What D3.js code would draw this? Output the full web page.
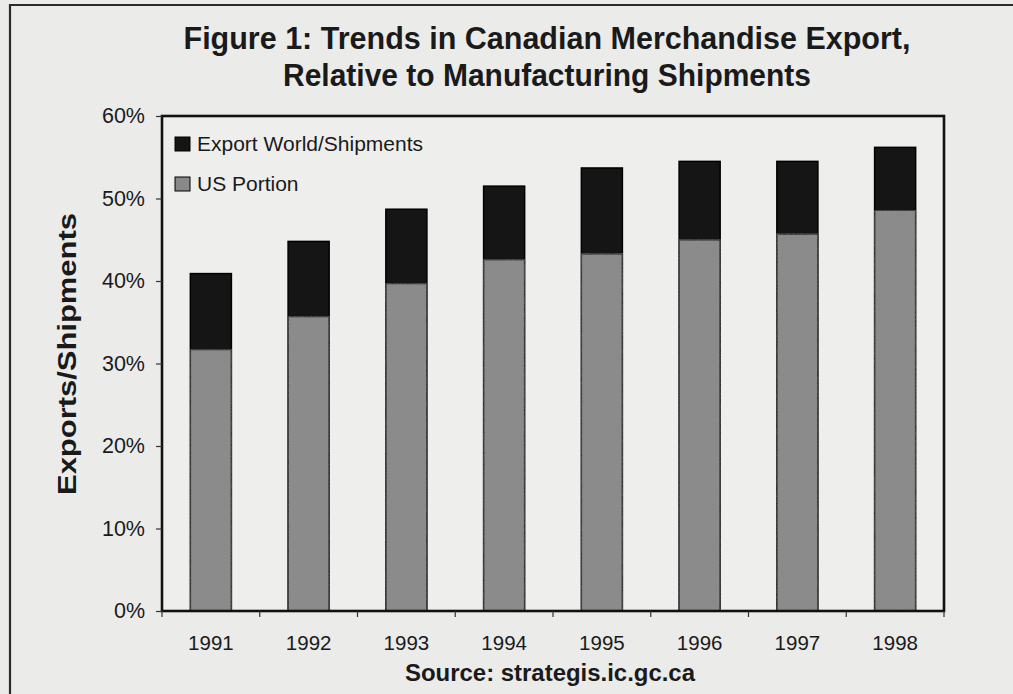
<!DOCTYPE html>
<html>
<head>
<meta charset="utf-8">
<script src="https://cdn.jsdelivr.net/npm/d3@7"></script>
<style>
  html, body { margin: 0; padding: 0; background: #ebebea; }
  svg { display: block; }
  text { fill: #1a1a1a; }
</style>
</head>
<body>
<svg id="chart" width="1013" height="694"></svg>
<script>
// Export share of manufacturing shipments, Canada, 1991-1998
const years = ["1991", "1992", "1993", "1994", "1995", "1996", "1997", "1998"];
const worldShare = [40.9, 44.8, 48.7, 51.5, 53.7, 54.5, 54.5, 56.2]; // Export World/Shipments (%)
const usShare    = [31.7, 35.7, 39.7, 42.6, 43.3, 45.0, 45.7, 48.6]; // US Portion (%)
const yTicks = [0, 10, 20, 30, 40, 50, 60];
const seriesNames = ["Export World/Shipments", "US Portion"];
const titleLines = ["Figure 1: Trends in Canadian Merchandise Export,", "Relative to Manufacturing Shipments"];
const yLabel = "Exports/Shipments";
const sourceNote = "Source: strategis.ic.gc.ca";

const svg = d3.select("#chart");
const W = 1013, H = 694;
const plot = { left: 162, right: 944, top: 116, bottom: 611 };

const colors = { world: "#151515", us: "#898989" };
const sans = "'Liberation Sans', Arial, sans-serif";
const narrow = "'Liberation Sans Narrow', 'Arial Narrow', 'Liberation Sans', Arial, sans-serif";

// page background and outer frame (top and left rules)
svg.append("rect").attr("width", W).attr("height", H).attr("fill", "#ebebea");
svg.append("path")
  .attr("d", `M10,${H} L10,5 L${W},5`)
  .attr("fill", "none").attr("stroke", "#2a2a2a").attr("stroke-width", 2.2);

// title
const titleWidths = [727, 528];
svg.append("g").selectAll("text").data(titleLines).join("text")
  .attr("x", 547)
  .attr("y", (d, i) => 49 + i * 37)
  .attr("text-anchor", "middle")
  .attr("font-family", narrow)
  .attr("font-weight", "bold")
  .attr("font-size", 32)
  .attr("textLength", (d, i) => titleWidths[i])
  .attr("lengthAdjust", "spacingAndGlyphs")
  .text(d => d);

// scales
const x = d3.scaleBand().domain(years).range([plot.left, plot.right]).paddingInner(0.58).paddingOuter(0.29);
const y = d3.scaleLinear().domain([0, 60]).range([plot.bottom, plot.top]);

// plot area
svg.append("rect")
  .attr("x", plot.left).attr("y", plot.top)
  .attr("width", plot.right - plot.left).attr("height", plot.bottom - plot.top)
  .attr("fill", "#eeeeed");

// grain for the grey fill
const defs = svg.append("defs");
const f = defs.append("filter").attr("id", "grain").attr("x", 0).attr("y", 0).attr("width", 1).attr("height", 1);
f.append("feTurbulence").attr("type", "fractalNoise").attr("baseFrequency", 0.9).attr("numOctaves", 2).attr("seed", 3).attr("result", "n");
f.append("feColorMatrix").attr("in", "n").attr("type", "matrix")
  .attr("values", "0 0 0 0 0.3  0 0 0 0 0.3  0 0 0 0 0.3  0 0 0 0.35 0").attr("result", "g");
f.append("feComposite").attr("in", "g").attr("in2", "SourceGraphic").attr("operator", "in").attr("result", "gi");
f.append("feMerge").call(m => { m.append("feMergeNode").attr("in", "SourceGraphic"); m.append("feMergeNode").attr("in", "gi"); });

// bars: world total behind, US portion in front
const bars = svg.append("g");
bars.selectAll("rect.world").data(years).join("rect")
  .attr("class", "world")
  .attr("x", d => x(d)).attr("width", x.bandwidth())
  .attr("y", (d, i) => y(worldShare[i]))
  .attr("height", (d, i) => y(0) - y(worldShare[i]))
  .attr("fill", colors.world).attr("stroke", "#000").attr("stroke-width", 1.5);
bars.selectAll("rect.us").data(years).join("rect")
  .attr("class", "us")
  .attr("x", d => x(d)).attr("width", x.bandwidth())
  .attr("y", (d, i) => y(usShare[i]))
  .attr("height", (d, i) => y(0) - y(usShare[i]))
  .attr("fill", colors.us).attr("filter", "url(#grain)")
  .attr("stroke", "#000").attr("stroke-width", 1.5);

// plot frame
svg.append("rect")
  .attr("x", plot.left).attr("y", plot.top)
  .attr("width", plot.right - plot.left).attr("height", plot.bottom - plot.top)
  .attr("fill", "none").attr("stroke", "#111").attr("stroke-width", 2.6);

// y axis
const yAxis = svg.append("g")
  .attr("transform", `translate(${plot.left},0)`)
  .call(d3.axisLeft(y).tickValues(yTicks).tickFormat(d => d + "%").tickSize(6).tickPadding(11));
yAxis.select(".domain").remove();
yAxis.selectAll("line").attr("stroke", "#333").attr("stroke-width", 1.2);
yAxis.selectAll("text")
  .attr("font-family", sans)
  .attr("font-size", 21.5).attr("fill", "#1e1e1e");

// x axis: ticks sit on the category boundaries
const xAxis = svg.append("g")
  .attr("transform", `translate(0,${plot.bottom})`)
  .call(d3.axisBottom(x).tickSize(0).tickPadding(24));
xAxis.select(".domain").remove();
xAxis.selectAll("text")
  .attr("font-family", sans)
  .attr("font-size", 20.5).attr("fill", "#1e1e1e");
const bounds = d3.range(years.length + 1).map(i => plot.left + i * (plot.right - plot.left) / years.length);
svg.append("g").selectAll("line").data(bounds).join("line")
  .attr("x1", d => d).attr("x2", d => d)
  .attr("y1", plot.bottom).attr("y2", plot.bottom + 6)
  .attr("stroke", "#333").attr("stroke-width", 1.2);

// axis title
svg.append("text")
  .attr("transform", "translate(76,354) rotate(-90)")
  .attr("text-anchor", "middle")
  .attr("font-family", sans)
  .attr("font-weight", "bold")
  .attr("font-size", 26)
  .attr("textLength", 282)
  .attr("lengthAdjust", "spacingAndGlyphs")
  .text(yLabel);

// legend
const legend = svg.append("g").attr("transform", "translate(175,137)");
const legendColors = [colors.world, colors.us];
const item = legend.selectAll("g").data(seriesNames).join("g")
  .attr("transform", (d, i) => `translate(0,${i * 40})`);
item.append("rect").attr("width", 15).attr("height", 14)
  .attr("fill", (d, i) => legendColors[i]).attr("stroke", "#000").attr("stroke-width", 1);
item.append("text").attr("x", 22).attr("y", 14)
  .attr("font-family", sans)
  .attr("font-size", 21)
  .text(d => d);

// source note
svg.append("text")
  .attr("x", 550).attr("y", 681)
  .attr("text-anchor", "middle")
  .attr("font-family", narrow)
  .attr("font-weight", "bold")
  .attr("font-size", 23)
  .attr("textLength", 290)
  .attr("lengthAdjust", "spacingAndGlyphs")
  .text(sourceNote);
</script>
</body>
</html>
